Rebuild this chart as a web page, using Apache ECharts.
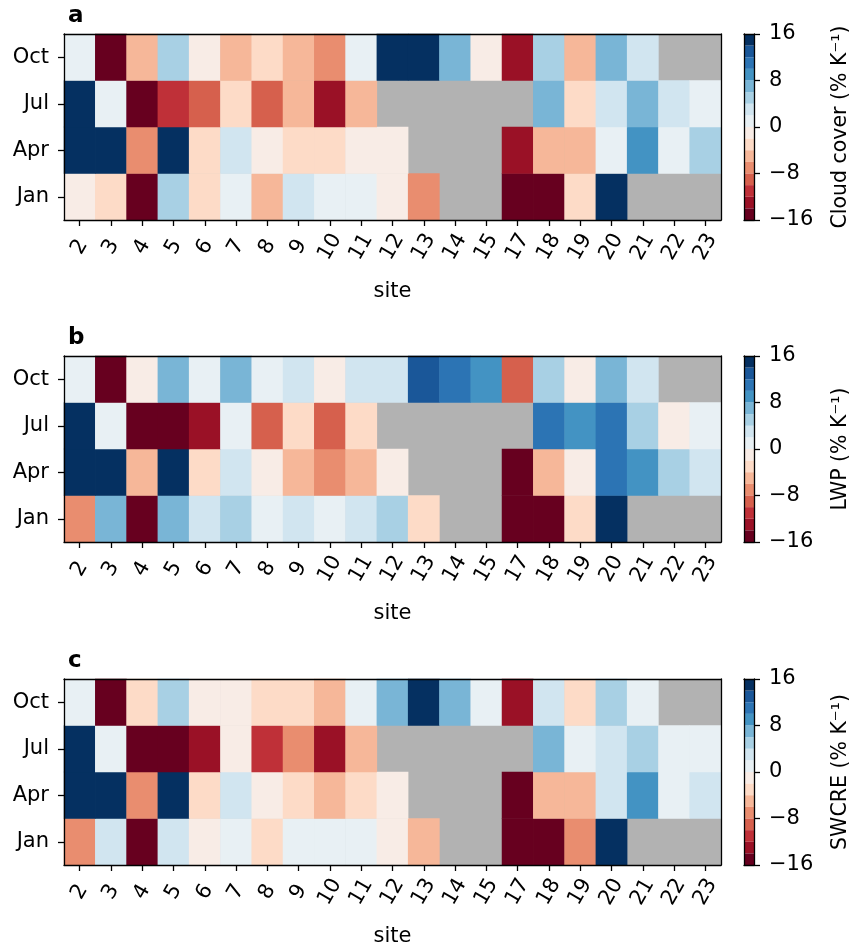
<!DOCTYPE html>
<html>
<head>
<meta charset="utf-8">
<script src="https://cdn.jsdelivr.net/npm/echarts@6/dist/echarts.min.js"></script>
<style>
  html, body { margin: 0; padding: 0; background: #fff; }
  #main { width: 852px; height: 952px; }
</style>
</head>
<body>
<div id="main"></div>
<script>
var sites = ['2', '3', '4', '5', '6', '7', '8', '9', '10', '11', '12', '13', '14', '15', '17', '18', '19', '20', '21', '22', '23'];
var months = ['Jan', 'Apr', 'Jul', 'Oct'];

// colour levels, % K^-1
var levels = [-16, -14, -12, -10, -8, -6, -4, -2, 0, 2, 4, 6, 8, 10, 12, 14, 16];

// rows: Jan, Apr, Jul, Oct ; null = no data
var cloudCover = [
    [-1, -3, -17, 5, -3, 1, -5, 3, 1, 1, -1, -7, null, null, -17, -17, -3, 17, null, null, null],
    [17, 17, -7, 17, -3, 3, -1, -3, -3, -1, -1, null, null, null, -13, -5, -5, 1, 9, 1, 5],
    [17, 1, -17, -11, -9, -3, -9, -5, -13, -5, null, null, null, null, null, 7, -3, 3, 7, 3, 1],
    [1, -17, -5, 5, -1, -5, -3, -5, -7, 1, 17, 17, 7, -1, -13, 5, -5, 7, 3, null, null]
];
var lwp = [
    [-7, 7, -17, 7, 3, 5, 1, 3, 1, 3, 5, -3, null, null, -17, -17, -3, 17, null, null, null],
    [17, 17, -5, 17, -3, 3, -1, -5, -7, -5, -1, null, null, null, -17, -5, -1, 11, 9, 5, 3],
    [17, 1, -17, -17, -13, 1, -9, -3, -9, -3, null, null, null, null, null, 11, 9, 11, 5, -1, 1],
    [1, -17, -1, 7, 1, 7, 1, 3, -1, 3, 3, 13, 11, 9, -9, 5, -1, 7, 3, null, null]
];
var swcre = [
    [-7, 3, -17, 3, -1, 1, -3, 1, 1, 1, -1, -5, null, null, -17, -17, -7, 17, null, null, null],
    [17, 17, -7, 17, -3, 3, -1, -3, -5, -3, -1, null, null, null, -17, -5, -5, 3, 9, 1, 3],
    [17, 1, -17, -17, -13, -1, -11, -7, -13, -5, null, null, null, null, null, 7, 1, 3, 5, 1, 1],
    [1, -17, -3, 5, -1, -1, -3, -3, -5, 1, 7, 17, 7, 1, -13, 3, -3, 5, 1, null, null]
];

var panels = [
    { letter: 'a', label: 'Cloud cover (% K⁻¹)', data: cloudCover, top: 34 },
    { letter: 'b', label: 'LWP (% K⁻¹)', data: lwp, top: 356 },
    { letter: 'c', label: 'SWCRE (% K⁻¹)', data: swcre, top: 679 }
];

// RdBu, 16 steps
var binColors = ['#67001f', '#9a1126', '#bf3038', '#d6604d', '#e98d6f', '#f6b799', '#fddbc7', '#f8ece6',
                 '#e8f0f4', '#d1e5f0', '#a8d0e4', '#79b5d6', '#4393c3', '#2c74b4', '#1a5799', '#053061'];

var FONT = 'DejaVu Sans';
var FS = 21;
var lineStyle = { color: '#000', width: 1.3 };

var grids = [], xAxes = [], yAxes = [], series = [], titles = [], pieces = [];

for (var k = 0; k < binColors.length; k++) {
    var p = { color: binColors[k] };
    if (k > 0) p.gte = levels[k];
    if (k < binColors.length - 1) p.lt = levels[k + 1];
    pieces.push(p);
}

var lineOnly = function (extra) {
    var a = {
        z: 5,
        axisLine: { show: true, onZero: false, lineStyle: lineStyle },
        axisTick: { show: false },
        axisLabel: { show: false },
        splitLine: { show: false }
    };
    for (var key in extra) a[key] = extra[key];
    return a;
};

var heatIdx = [];

panels.forEach(function (pn, i) {
    var g = grids.length;
    // heatmap grid, grey shows through where there is no data
    grids.push({ left: 64, top: pn.top, width: 657, height: 186, show: true, backgroundColor: '#b2b2b2', borderWidth: 0 });
    // colorbar grid
    grids.push({ left: 744, top: pn.top, width: 10, height: 186, show: false });

    var xb = xAxes.length;
    xAxes.push({
        type: 'category', gridIndex: g, data: sites, position: 'bottom', z: 5,
        axisLine: { show: true, lineStyle: lineStyle },
        axisTick: { show: true, alignWithLabel: true, interval: 0, length: 6, lineStyle: lineStyle },
        axisLabel: { interval: 0, hideOverlap: false, rotate: 60, align: 'center', verticalAlign: 'middle', margin: 27,
                     fontFamily: FONT, fontSize: FS, color: '#000' },
        name: 'site', nameLocation: 'middle', nameGap: 61,
        nameTextStyle: { fontFamily: FONT, fontSize: FS, color: '#000' }
    });
    xAxes.push(lineOnly({ type: 'category', gridIndex: g, data: sites, position: 'top' }));
    xAxes.push(lineOnly({ type: 'category', gridIndex: g + 1, data: [''], position: 'bottom' }));
    xAxes.push(lineOnly({ type: 'category', gridIndex: g + 1, data: [''], position: 'top' }));

    var yb = yAxes.length;
    yAxes.push({
        type: 'category', gridIndex: g, data: months, position: 'left', z: 5,
        axisLine: { show: true, lineStyle: lineStyle },
        axisTick: { show: true, alignWithLabel: true, interval: 0, length: 6, lineStyle: lineStyle },
        axisLabel: { interval: 0, margin: 15, fontFamily: FONT, fontSize: FS, color: '#000' }
    });
    yAxes.push(lineOnly({ type: 'category', gridIndex: g, data: months, position: 'right' }));
    yAxes.push({
        type: 'value', gridIndex: g + 1, position: 'right', min: -16, max: 16, interval: 8, z: 5,
        axisLine: { show: true, onZero: false, lineStyle: lineStyle },
        axisTick: { show: true, length: 6, lineStyle: lineStyle },
        splitLine: { show: false },
        axisLabel: { margin: 15, fontFamily: FONT, fontSize: FS, color: '#000',
                     formatter: function (v) { return String(v).replace('-', '−'); } },
        name: pn.label, nameLocation: 'middle', nameRotate: 90, nameGap: 76,
        nameTextStyle: { fontFamily: FONT, fontSize: 20.5, color: '#000' }
    });
    yAxes.push(lineOnly({ type: 'value', gridIndex: g + 1, position: 'left', min: -16, max: 16 }));

    var cells = [];
    pn.data.forEach(function (row, m) {
        row.forEach(function (v, s) {
            if (v !== null) cells.push([s, m, v]);
        });
    });
    heatIdx.push(series.length);
    series.push({
        type: 'heatmap', xAxisIndex: xb, yAxisIndex: yb, data: cells,
        itemStyle: { borderWidth: 0 }, emphasis: { disabled: true }
    });

    // colorbar: one stacked bar per band, negatives stack down from 0 (7..0), positives up (8..15)
    var order = [7, 6, 5, 4, 3, 2, 1, 0, 8, 9, 10, 11, 12, 13, 14, 15];
    order.forEach(function (b) {
        var h = levels[b + 1] - levels[b];
        series.push({
            type: 'bar', xAxisIndex: xb + 2, yAxisIndex: yb + 2, stack: 'cb' + i,
            barWidth: '100%', silent: true,
            data: [b < 8 ? -h : h],
            itemStyle: { color: binColors[b] }
        });
    });

    titles.push({
        text: pn.letter, left: 63, top: pn.top - 34,
        textStyle: { fontFamily: FONT, fontSize: 23, fontWeight: 'bold', color: '#000' }
    });
});

var chart = echarts.init(document.getElementById('main'));
chart.setOption({
    animation: false,
    backgroundColor: '#fff',
    title: titles,
    grid: grids,
    xAxis: xAxes,
    yAxis: yAxes,
    visualMap: {
        type: 'piecewise', show: false, seriesIndex: heatIdx, dimension: 2,
        pieces: pieces
    },
    series: series
});
</script>
</body>
</html>
